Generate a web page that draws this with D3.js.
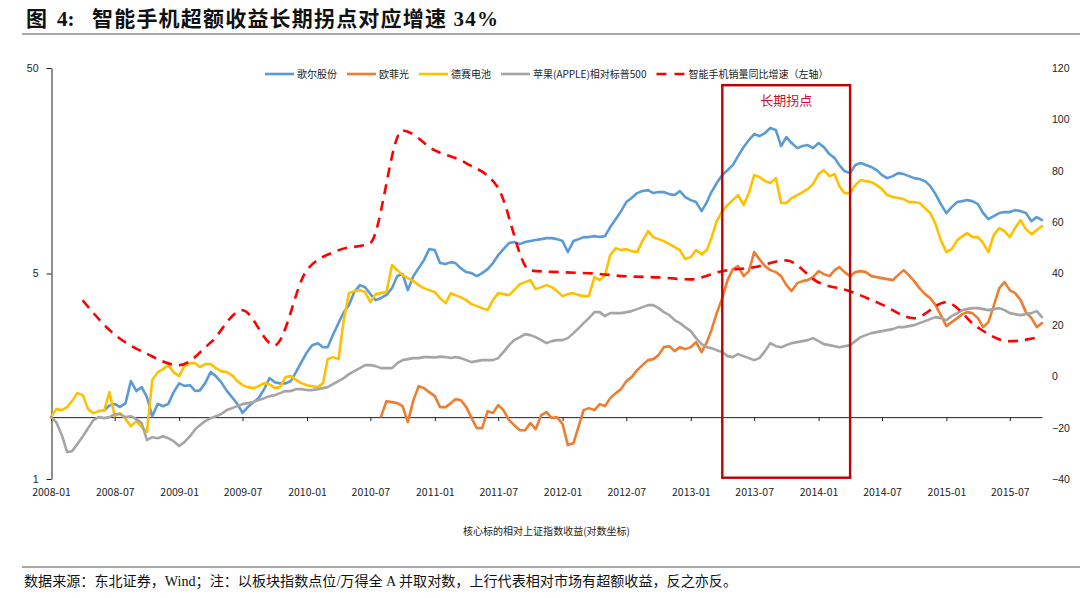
<!DOCTYPE html>
<html><head><meta charset="utf-8">
<script src="https://cdn.jsdelivr.net/npm/d3@7/dist/d3.min.js"></script>
<style>
body{margin:0;background:#fff;}
svg{display:block;font-family:"Noto Sans CJK SC","Liberation Sans",sans-serif;}
</style></head><body>
<svg id="c" width="1080" height="598"></svg>
<script>
// ---- data (semi-monthly samples: 1st & 16th of each month from 2008-01-01) ----
const sampleCount = 187;
const seriesNames = ["歌尔股份","欧菲光","德赛电池","苹果(APPLE)相对标普500","智能手机销量同比增速（左轴）"];
const seriesColors = ["#5B9BD5","#ED7D31","#FFC000","#A5A5A5","#FF0000"];
const blueStart = 10, orangeStart = 62, yellowStart = 0, grayStart = 0;

const goertek = [1.08,1.14,1.16,1.12,1.17,1.50,1.34,1.40,1.25,1.01,
1.16,1.13,1.16,1.32,1.46,1.42,1.43,1.34,1.35,1.46,
1.66,1.58,1.48,1.35,1.25,1.16,1.05,1.12,1.18,1.24,
1.37,1.55,1.48,1.46,1.46,1.50,1.66,1.85,2.07,2.24,
2.29,2.19,2.19,2.51,2.87,3.24,3.51,4.06,4.39,4.29,
3.97,3.71,3.80,3.93,4.25,4.86,4.97,4.15,4.86,5.31,
5.81,6.57,6.50,5.62,5.56,5.68,5.62,5.31,5.08,5.02,
4.86,5.02,5.25,5.62,6.14,6.57,7.03,7.11,6.95,7.11,
7.19,7.27,7.35,7.43,7.43,7.35,7.19,6.36,7.19,7.35,
7.52,7.52,7.60,7.52,7.60,8.41,9.20,10.06,11.13,11.64,
12.31,12.59,12.73,12.31,12.45,12.45,12.17,12.04,12.59,11.77,
11.38,11.13,10.06,11.13,12.45,13.77,15.06,15.93,16.85,18.63,
20.61,22.3,23.85,23.32,24.12,25.51,24.94,20.85,23.06,21.56,
20.38,20.85,21.08,20.38,21.56,20.61,19.06,18.22,16.85,15.75,
15.40,16.85,17.23,16.85,16.48,15.93,15.06,14.56,14.89,15.40,
15.23,14.89,14.56,14.40,14.08,13.31,12.17,10.88,9.84,10.52,
11.13,11.25,11.38,11.25,10.88,9.84,9.20,9.51,9.84,9.95,
9.95,10.17,10.06,9.84,8.99,9.41,9.10];

const ofilm = [1.011,1.196,1.183,1.170,1.131,0.945,1.210,1.415,
1.384,1.323,1.265,1.119,1.119,1.170,1.223,1.210,1.119,0.989,
0.884,0.884,1.070,1.046,1.144,1.082,0.967,0.914,0.864,0.864,
0.935,0.874,1.023,1.058,0.989,1.00,0.925,0.731,0.747,0.904,
1.082,1.106,1.082,1.157,1.131,1.237,1.309,1.369,1.497,1.566,
1.693,1.791,1.894,1.916,2.003,2.191,2.215,2.095,2.191,2.143,
2.191,2.318,2.072,2.318,2.651,3.208,3.795,4.643,5.252,5.432,
4.856,5.136,6.355,5.875,5.432,5.194,5.078,4.856,4.390,4.105,
4.489,4.591,4.643,4.802,5.136,4.966,4.856,5.194,5.371,5.078,
4.856,5.078,5.136,5.078,4.856,4.802,4.748,4.695,4.643,4.911,
5.194,4.911,4.591,4.245,3.969,3.795,3.509,3.137,2.773,2.900,
3.033,3.172,3.244,3.208,3.033,2.742,2.900,3.469,4.245,4.540,
4.151,4.014,3.711,3.244,3.033,2.742,2.868];

const desay = [1.00,1.094,1.082,1.119,1.196,1.309,1.280,1.094,1.046,1.070,
1.082,1.323,1.011,1.046,0.978,0.904,0.956,0.894,0.845,1.514,
1.656,1.712,1.791,1.656,1.583,1.771,1.832,1.832,1.751,1.811,
1.811,1.732,1.675,1.656,1.601,1.497,1.431,1.400,1.384,1.415,
1.464,1.447,1.384,1.400,1.566,1.583,1.514,1.464,1.431,1.415,
1.400,1.464,1.916,1.959,1.916,2.966,4.014,4.105,4.151,4.059,
3.629,3.969,4.014,4.059,5.493,5.194,4.911,4.748,4.591,4.390,
4.245,4.151,4.059,3.795,3.588,4.014,3.925,3.838,3.711,3.548,
3.469,3.393,3.318,3.711,4.014,3.969,3.925,4.151,4.439,4.540,
4.643,4.198,4.293,4.390,4.293,4.105,3.881,3.969,4.014,3.925,
3.881,3.881,4.802,4.643,4.911,6.144,6.646,6.499,6.572,6.427,
6.355,7.188,8.04,7.518,7.351,7.188,6.951,6.721,6.499,5.875,
6.008,6.499,6.213,6.499,7.434,8.994,10.06,10.76,11.38,12.04,
10.76,12.31,15.06,14.73,14.08,13.77,14.56,11.01,11.01,11.64,
12.04,12.45,12.87,13.62,15.23,15.93,14.89,15.23,13.31,12.31,
12.31,13.46,14.24,14.08,13.92,13.46,12.87,12.04,11.77,11.64,
11.51,11.13,11.13,11.01,10.40,9.838,8.697,7.269,6.355,6.572,
7.269,7.603,7.862,7.518,7.518,7.029,6.355,7.688,8.315,8.04,
7.518,8.315,9.096,8.223,7.775,8.131,8.503];

const appleVsSpx = [1.00,0.945,0.817,0.676,0.683,0.739,0.808,0.884,0.967,1.00,
0.989,1.00,1.034,1.034,1.00,1.011,0.978,0.935,0.773,0.799,
0.790,0.808,0.790,0.764,0.723,0.756,0.808,0.874,0.914,0.956,
0.989,1.011,1.034,1.081,1.106,1.131,1.157,1.170,1.183,1.210,
1.237,1.265,1.280,1.309,1.339,1.339,1.369,1.369,1.354,1.354,
1.369,1.384,1.400,1.447,1.497,1.548,1.619,1.675,1.732,1.791,
1.791,1.771,1.732,1.732,1.732,1.832,1.894,1.916,1.937,1.937,
1.959,1.96,1.95,1.97,1.96,1.94,1.96,1.937,1.894,1.852,
1.873,1.894,1.894,1.894,1.937,2.072,2.241,2.370,2.451,2.535,
2.507,2.451,2.370,2.292,2.344,2.370,2.370,2.424,2.564,2.711,
2.868,3.033,3.244,3.244,3.102,3.208,3.208,3.208,3.244,3.281,
3.355,3.431,3.509,3.509,3.393,3.244,3.137,2.966,2.868,2.742,
2.622,2.424,2.266,2.19,2.167,2.118,2.072,1.981,1.959,2.026,
1.981,1.937,1.894,1.937,2.095,2.292,2.215,2.19,2.241,2.292,
2.318,2.344,2.370,2.424,2.344,2.266,2.241,2.215,2.19,2.215,
2.241,2.344,2.451,2.507,2.564,2.593,2.622,2.651,2.681,2.742,
2.742,2.773,2.804,2.868,2.933,2.999,3.067,3.033,2.966,3.102,
3.208,3.318,3.355,3.393,3.393,3.355,3.318,3.355,3.393,3.318,
3.208,3.172,3.137,3.172,3.208,3.281,3.067];

const salesQuarters = ["2008-03-31","2008-06-30","2008-09-30","2008-12-31","2009-03-31","2009-06-30","2009-09-30","2009-12-31",
"2010-03-31","2010-06-30","2010-09-30","2010-12-31","2011-03-31","2011-06-30","2011-09-30","2011-12-31",
"2012-03-31","2012-06-30","2012-09-30","2012-12-31","2013-03-31","2013-06-30","2013-09-30","2013-12-31",
"2014-03-31","2014-06-30","2014-09-30","2014-12-31","2015-03-31","2015-06-30","2015-09-30"];
const salesGrowth = [29.6,16.3,8.8,4.3,13,25.7,12,41.2,49,51.8,95.7,88,83,73.5,41.2,40.5,
40,38.9,38.5,37.7,40.9,42.4,45.1,36.6,33.1,28,22.6,28.8,19,13.6,15.5];

const xTickLabels = ["2008-01","2008-07","2009-01","2009-07","2010-01","2010-07","2011-01","2011-07",
"2012-01","2012-07","2013-01","2013-07","2014-01","2014-07","2015-01","2015-07"];
const leftTicks = [0.5,5,50];
const leftTickLabels = ["1","5","50"];
const rightTicks = [-40,-20,0,20,40,60,80,100,120];

// ---- scales ----
const parse = d3.timeParse("%Y-%m-%d");
const parseM = d3.timeParse("%Y-%m");
const sampleDates = d3.range(sampleCount).map(i => new Date(2008, Math.floor(i/2), i%2 ? 16 : 1));
const x = d3.scaleTime().domain([new Date(2008,0,1), new Date(2015,9,1)]).range([51,1042]);
const yL = d3.scaleLog().domain([0.5,50]).range([479,68]);
const yR = d3.scaleLinear().domain([-40,120]).range([479,68]);

const svg = d3.select("#c");

// ---- title ----
svg.append("text").attr("x",26).attr("y",26).attr("font-size",21).attr("font-weight","bold")
  .attr("fill","#111").attr("font-family","'Liberation Serif','Noto Sans CJK SC',serif").text("图");
svg.append("text").attr("x",57).attr("y",26).attr("font-size",21).attr("font-weight","bold")
  .attr("fill","#111").attr("font-family","'Liberation Serif','Noto Sans CJK SC',serif").text("4:");
svg.append("text").attr("x",92).attr("y",26).attr("font-size",21).attr("font-weight","bold")
  .attr("fill","#111").attr("font-family","'Liberation Serif','Noto Sans CJK SC',serif")
  .attr("textLength",406).attr("lengthAdjust","spacing").text("智能手机超额收益长期拐点对应增速 34%");
svg.append("line").attr("x1",22).attr("x2",1080).attr("y1",34).attr("y2",34).attr("stroke","#8c8c8c").attr("stroke-width",1.6);

// ---- axes ----
const axisColor = "#222";
const gx = svg.append("g").attr("transform",`translate(0,${yL(1)})`)
  .call(d3.axisBottom(x).tickValues(xTickLabels.map(parseM)).tickFormat("").tickSize(4).tickSizeOuter(0));
gx.select(".domain").attr("stroke",axisColor);
gx.selectAll(".tick line").attr("stroke",axisColor);
const gxl = svg.append("g").attr("transform","translate(0,486)")
  .call(d3.axisBottom(x).tickValues(xTickLabels.map(parseM)).tickFormat(d3.timeFormat("%Y-%m")).tickSize(0).tickPadding(3));
gxl.select(".domain").remove();
gxl.selectAll("text").attr("font-size",10.5).attr("fill",axisColor).attr("font-family","'Noto Sans CJK SC',sans-serif");

const gl = svg.append("g").attr("transform","translate(51.5,0)")
  .call(d3.axisLeft(yL).tickValues(leftTicks).tickFormat((d,i)=>leftTickLabels[i]).tickSize(5).tickSizeOuter(0).tickPadding(8));
gl.select(".domain").attr("stroke",axisColor);
gl.selectAll(".tick line").attr("stroke",axisColor);
gl.selectAll("text").attr("font-size",10.5).attr("fill",axisColor);

const gr = svg.append("g").attr("transform","translate(1042,0)")
  .call(d3.axisRight(yR).tickValues(rightTicks).tickSize(0).tickPadding(10));
gr.select(".domain").remove();
gr.selectAll("text").attr("font-size",10.5).attr("fill",axisColor);

// ---- series ----
const lineL = d3.line().defined(d => d.v != null).x(d => x(d.d)).y(d => yL(d.v));
function mk(arr, start){ return arr.map((v,i)=>({d:sampleDates[start+i], v})); }
const series = [
  {data: mk(goertek, blueStart), c: seriesColors[0]},
  {data: mk(ofilm, orangeStart), c: seriesColors[1]},
  {data: mk(desay, yellowStart), c: seriesColors[2]},
  {data: mk(appleVsSpx, grayStart), c: seriesColors[3]}
];
svg.append("g").selectAll("path").data(series).join("path")
  .attr("d", s => lineL(s.data)).attr("fill","none").attr("stroke", s => s.c)
  .attr("stroke-width",2.6).attr("stroke-linejoin","round").attr("stroke-linecap","round");

const salesData = salesQuarters.map((q,i)=>({d:parse(q), v:salesGrowth[i]}));
svg.append("path").datum(salesData)
  .attr("d", d3.line().x(d=>x(d.d)).y(d=>yR(d.v)).curve(d3.curveMonotoneX))
  .attr("fill","none").attr("stroke",seriesColors[4]).attr("stroke-width",2.6)
  .attr("stroke-dasharray","10,7");

// ---- annotation box ----
const boxStart = parseM("2013-04"), boxEnd = parseM("2014-04");
svg.append("rect").attr("x",x(boxStart)).attr("y",yR(113.3))
  .attr("width",x(boxEnd)-x(boxStart)).attr("height",yR(-39.5)-yR(113.3))
  .attr("fill","none").attr("stroke","#C00000").attr("stroke-width",2.4);
svg.append("text").attr("x",(x(boxStart)+x(boxEnd))/2).attr("y",105).attr("text-anchor","middle")
  .attr("font-size",13).attr("fill","#C8102E").text("长期拐点");

// ---- legend ----
const lg = svg.append("g").attr("transform","translate(265,74)");
let lx = 0;
seriesNames.forEach((n,i)=>{
  const ln = lg.append("line").attr("x1",lx).attr("x2",lx+29).attr("y1",0).attr("y2",0)
    .attr("stroke",seriesColors[i]).attr("stroke-width",2.6);
  if(i===4) ln.attr("stroke-dasharray","10,8");
  const t = lg.append("text").attr("x",lx+32).attr("y",3.6).attr("font-size",10).attr("fill","#222").text(n);
  lx += 32 + t.node().getComputedTextLength() + 10;
});

// ---- axis title & source ----
svg.append("text").attr("x",546.5).attr("y",535).attr("text-anchor","middle").attr("font-size",10)
  .attr("fill","#222").attr("textLength",167).attr("lengthAdjust","spacingAndGlyphs").text("核心标的相对上证指数收益(对数坐标)");
svg.append("line").attr("x1",22).attr("x2",1080).attr("y1",567).attr("y2",567).attr("stroke","#8c8c8c").attr("stroke-width",1.6);
svg.append("text").attr("x",24).attr("y",586).attr("font-size",14).attr("fill","#111")
  .attr("font-family","'Liberation Serif','Noto Sans CJK SC',serif")
  .attr("textLength",713).attr("lengthAdjust","spacingAndGlyphs")
  .text("数据来源：东北证券，Wind；注：以板块指数点位/万得全 A 并取对数，上行代表相对市场有超额收益，反之亦反。");
</script>
</body></html>
